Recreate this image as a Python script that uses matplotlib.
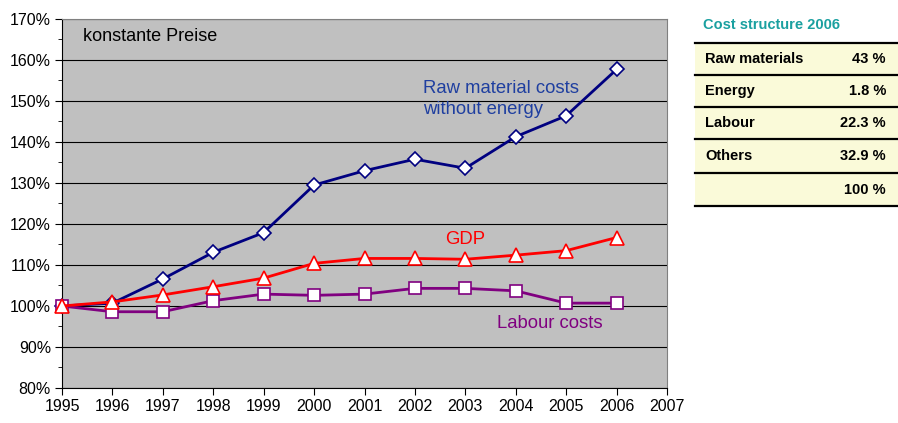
import matplotlib

matplotlib.use("Agg")
import matplotlib.pyplot as plt
from matplotlib.ticker import FuncFormatter, MultipleLocator

plt.rcParams["font.family"] = ["Liberation Sans", "DejaVu Sans"]

YEARS = list(range(1995, 2007))
RAW = [100, 100.7, 106.6, 113.1, 117.9, 129.5, 133.0, 135.8, 133.6, 141.3, 146.4, 157.7]
GDP = [100, 101.0, 102.7, 104.7, 106.8, 110.4, 111.6, 111.6, 111.4, 112.4, 113.5, 116.7]
LABOUR = [100, 98.6, 98.6, 101.3, 102.9, 102.6, 102.9, 104.3, 104.3, 103.7, 100.7, 100.7]

TABLE_TITLE = "Cost structure 2006"
TABLE_ROWS = ["Raw materials", "Energy", "Labour", "Others", ""]
TABLE_VALUES = ["43 %", "1.8 %", "22.3 %", "32.9 %", "100 %"]

NAVY = "#000080"
RED = "#FF0000"
PURPLE = "#800080"

fig = plt.figure(figsize=(8.98, 4.23), dpi=100)
ax = fig.add_axes([62 / 898, 35 / 423, 605 / 898, 369 / 423])
ax.set_facecolor("#C0C0C0")

ax.plot(YEARS, RAW, color=NAVY, lw=2, marker="D", ms=7, mfc="white",
        mec=NAVY, mew=1.2, clip_on=False, zorder=3)
ax.plot(YEARS, LABOUR, color=PURPLE, lw=2, marker="s", ms=9, mfc="white",
        mec=PURPLE, mew=1.2, clip_on=False, zorder=3)
ax.plot(YEARS, GDP, color=RED, lw=2, marker="^", ms=10, mfc="white",
        mec=RED, mew=1.2, clip_on=False, zorder=4)

ax.set_xlim(1995, 2007)
ax.set_ylim(80, 170)
ax.set_xticks(range(1995, 2008))
ax.yaxis.set_major_locator(MultipleLocator(10))
ax.yaxis.set_minor_locator(MultipleLocator(5))
ax.yaxis.set_major_formatter(FuncFormatter(lambda v, p: f"{v:.0f}%"))
ax.tick_params(axis="both", which="major", labelsize=11.5, direction="out",
               length=5, color="black", pad=3)
ax.tick_params(axis="y", which="minor", direction="out", length=3)
ax.grid(True, axis="y", which="major", color="black", lw=0.8)
ax.set_axisbelow(True)

for side in ("top", "right"):
    ax.spines[side].set_color("#808080")
ax.spines["left"].set_color("black")
ax.spines["bottom"].set_color("black")

ax.text(1995.42, 165.8, "konstante Preise", fontsize=13, va="center", ha="left")
ax.text(2002.16, 150.4, "Raw material costs\nwithout energy", fontsize=13.3,
        color="#1F3FA0", va="center", ha="left", linespacing=1.3)
ax.text(2003.0, 116.2, "GDP", fontsize=13.3, color=RED, va="center", ha="center")
ax.text(2007 - 1.28, 95.7, "Labour costs", fontsize=13.3, color=PURPLE,
        va="center", ha="right")

# Cost structure table
W, H = 898, 423
fig.text(703 / W, 1 - 25 / H, TABLE_TITLE, fontsize=10.5, fontweight="bold",
         color="#1AA0A0", va="center", ha="left")
lines_y = [43, 75, 107, 139, 173, 206]
x0, x1 = 695 / W, 898 / W
fig.patches.append(plt.Rectangle((x0, 1 - lines_y[-1] / H), x1 - x0,
                                 (lines_y[-1] - lines_y[0]) / H,
                                 transform=fig.transFigure, facecolor="#FAFAD9",
                                 edgecolor="none", zorder=0))
for y in lines_y:
    fig.add_artist(plt.Line2D([x0, x1], [1 - y / H, 1 - y / H],
                              transform=fig.transFigure, color="black", lw=1.6))
for i, (name, val) in enumerate(zip(TABLE_ROWS, TABLE_VALUES)):
    yc = 1 - (lines_y[i] + lines_y[i + 1]) / 2 / H
    fig.text(705 / W, yc, name, fontsize=10.5, fontweight="bold", va="center", ha="left")
    fig.text(886 / W, yc, val, fontsize=10.5, fontweight="bold", va="center", ha="right")

fig.savefig("out.png", dpi=100)
